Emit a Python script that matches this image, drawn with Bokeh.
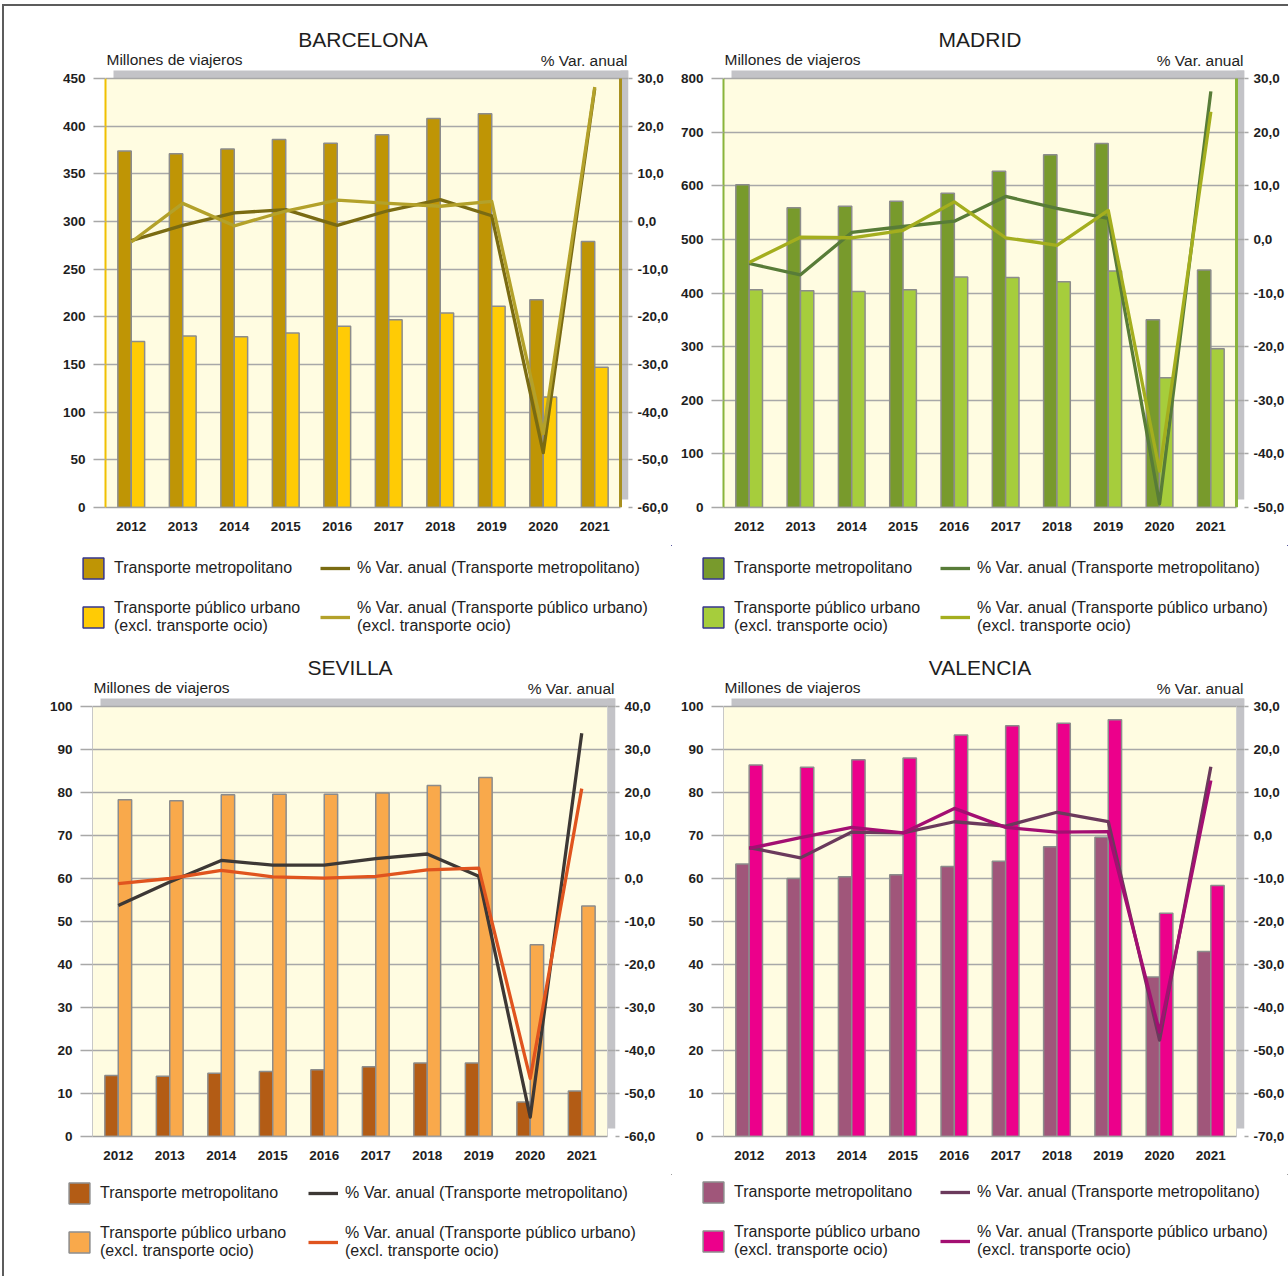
from bokeh.plotting import figure
from bokeh.models import (ColumnDataSource, Range1d, LinearAxis, FixedTicker,
                          Legend, LegendItem, Label, BoxAnnotation, CustomJSTickFormatter)
from bokeh.transform import dodge
from bokeh.layouts import column, row
from bokeh.embed import file_html
from bokeh.resources import INLINE

years = ["2012", "2013", "2014", "2015", "2016", "2017", "2018", "2019", "2020", "2021"]

bcn_metro = [374, 371, 376, 386, 382, 391, 408, 413, 218, 279]
bcn_urbano = [174, 180, 179, 183, 190, 197, 204, 211, 116, 147]
bcn_var_metro = [-4.0, -0.8, 1.8, 2.5, -0.8, 2.3, 4.6, 1.2, -48.5, 27.9]
bcn_var_urbano = [-4.3, 3.8, -0.9, 2.2, 4.5, 3.8, 3.2, 4.2, -44.5, 28.2]

mad_metro = [602, 559, 562, 571, 586, 627, 658, 679, 350, 443]
mad_urbano = [406, 404, 403, 406, 430, 429, 421, 441, 242, 296]
mad_var_metro = [-4.5, -6.6, 1.3, 2.4, 3.4, 8.0, 5.8, 3.9, -49.3, 27.6]
mad_var_urbano = [-4.3, 0.4, 0.3, 1.7, 7.0, 0.3, -1.1, 5.4, -43.2, 23.8]

sev_metro = [14.2, 14.0, 14.7, 15.1, 15.5, 16.2, 17.1, 17.1, 8.0, 10.6]
sev_urbano = [78.3, 78.1, 79.5, 79.6, 79.6, 79.9, 81.6, 83.5, 44.6, 53.6]
sev_var_metro = [-6.3, -0.8, 4.2, 3.1, 3.1, 4.6, 5.7, 0.5, -55.5, 33.8]
sev_var_urbano = [-1.2, 0.0, 1.9, 0.4, 0.1, 0.5, 2.0, 2.4, -46.5, 20.9]

val_metro = [63.4, 60.0, 60.4, 60.9, 62.8, 64.0, 67.4, 69.6, 37.1, 43.0]
val_urbano = [86.4, 85.9, 87.6, 88.0, 93.4, 95.5, 96.1, 96.9, 51.9, 58.4]
val_var_metro = [-2.8, -5.2, 0.8, 0.6, 3.2, 2.2, 5.4, 3.2, -47.6, 16.0]
val_var_urbano = [-3.0, -0.5, 1.9, 0.6, 6.3, 1.9, 0.8, 0.9, -45.7, 12.8]

bcn_left_ticks = [0, 50, 100, 150, 200, 250, 300, 350, 400, 450]
bcn_right_ticks = [-60, -50, -40, -30, -20, -10, 0, 10, 20, 30]
mad_left_ticks = [0, 100, 200, 300, 400, 500, 600, 700, 800]
mad_right_ticks = [-50, -40, -30, -20, -10, 0, 10, 20, 30]
sev_left_ticks = [0, 10, 20, 30, 40, 50, 60, 70, 80, 90, 100]
sev_right_ticks = [-60, -50, -40, -30, -20, -10, 0, 10, 20, 30, 40]
val_left_ticks = [0, 10, 20, 30, 40, 50, 60, 70, 80, 90, 100]
val_right_ticks = [-70, -60, -50, -40, -30, -20, -10, 0, 10, 20, 30]

lbl_metro = "Transporte metropolitano"
lbl_urbano = "Transporte público urbano\n(excl. transporte ocio)"
lbl_var_metro = "% Var. anual (Transporte metropolitano)"
lbl_var_urbano = "% Var. anual (Transporte público urbano)\n(excl. transporte ocio)"

TICK_FONT = "Liberation Sans"
TEXT_FONT = "Liberation Sans"
GRID = "#a8a8a8"
BG = "#fffce1"
SHADOW = "#c3c3c7"
EXTRA_TOP = 58   # frame space above the plot area (titles)
SH = 8           # shadow offset


def no_align(fig):
    try:
        fig.frame_align = False
    except AttributeError:
        pass


def build(name, metro, urbano, vmetro, vurbano, lticks, rticks, col,
          width, height, bl, bt, W, H, rstandoff, leg_h, leg_x1, leg_x2, leg_y):
    FW = W + SH
    FH = H + EXTRA_TOP
    br = width - bl - FW
    bb = height - bt - FH
    n = len(years)
    xs = [i + 0.5 for i in range(n)]
    src = ColumnDataSource(dict(x=xs, year=years, metro=metro, urbano=urbano,
                                vmetro=vmetro, vurbano=vurbano))
    lo, hi = lticks[0], lticks[-1]
    plo, phi = rticks[0], rticks[-1]
    p = figure(x_range=Range1d(0, n * FW / W), y_range=Range1d(lo, lo + (hi - lo) * FH / H),
               width=width, height=height, output_backend="svg", toolbar_location=None,
               min_border_left=bl, min_border_right=br, min_border_top=bt,
               min_border_bottom=bb)
    no_align(p)
    p.title.visible = False
    p.extra_y_ranges = {"pct": Range1d(plo, plo + (phi - plo) * FH / H)}
    p.background_fill_color = "white"
    p.border_fill_color = "white"
    p.outline_line_color = None
    p.xgrid.grid_line_color = None
    p.ygrid.ticker = FixedTicker(ticks=lticks)
    p.ygrid.grid_line_color = GRID
    p.ygrid.grid_line_width = 1.5

    scr = dict(left_units="screen", right_units="screen", bottom_units="screen",
               top_units="screen", line_color=None, fill_alpha=1)
    # plot area background and its drop shadow
    p.add_layout(BoxAnnotation(left=0, right=W, bottom=0, top=H, fill_color=BG,
                               level="image", **scr))
    p.add_layout(BoxAnnotation(left=SH, right=W + SH, bottom=H, top=H + SH,
                               fill_color=SHADOW, level="image", **scr))
    p.add_layout(BoxAnnotation(left=W, right=W + SH, bottom=SH, top=H + SH,
                               fill_color=SHADOW, level="image", **scr))
    # right edge line of the plot area
    p.add_layout(BoxAnnotation(left=W - col["raxis_w"] / 2, right=W + col["raxis_w"] / 2,
                               bottom=0, top=H, fill_color=col["raxis"],
                               level="underlay", **scr))

    yax = p.yaxis[0]
    yax.ticker = FixedTicker(ticks=lticks)
    yax.bounds = (lo, hi)
    rax = LinearAxis(y_range_name="pct", ticker=FixedTicker(ticks=rticks), bounds=(plo, phi),
                     formatter=CustomJSTickFormatter(code="return tick.toFixed(1).replace('.', ',');"))
    p.add_layout(rax, "right")
    for ax in (yax, rax):
        ax.major_tick_in = 0
        ax.major_tick_line_color = GRID
        ax.major_tick_line_width = 1.5
        ax.minor_tick_line_color = None
        ax.major_label_text_font = TICK_FONT
        ax.major_label_text_font_size = "13.5px"
        ax.major_label_text_font_style = "bold"
        ax.major_label_text_color = "#1e1e1e"
    yax.major_tick_out = 12
    yax.major_label_standoff = 8
    yax.axis_line_color = col["laxis"]
    yax.axis_line_width = col["laxis_w"]
    rax.major_tick_out = 4
    rax.major_label_standoff = rstandoff
    rax.axis_line_color = None

    xax = p.xaxis[0]
    xax.ticker = FixedTicker(ticks=xs)
    xax.formatter = CustomJSTickFormatter(args=dict(labels=years),
                                          code="return labels[Math.floor(tick)];")
    xax.bounds = (0, n)
    xax.axis_line_color = "#a0a0a0"
    xax.axis_line_width = 1.5
    xax.major_tick_line_color = None
    xax.minor_tick_line_color = None
    xax.major_label_text_font = TICK_FONT
    xax.major_label_text_font_size = "13.5px"
    xax.major_label_text_font_style = "bold"
    xax.major_label_text_color = "#1e1e1e"
    xax.major_label_standoff = 8

    p.vbar(x=dodge("x", -0.13), top="metro", width=0.26, source=src,
           fill_color=col["mbar"], line_color="#8c8c8c", line_width=1.5)
    p.vbar(x=dodge("x", 0.13), top="urbano", width=0.26, source=src,
           fill_color=col["ubar"], line_color="#8c8c8c", line_width=1.5)
    p.line("x", "vmetro", source=src, y_range_name="pct",
           line_color=col["mline"], line_width=3.3, line_join="round")
    p.line("x", "vurbano", source=src, y_range_name="pct",
           line_color=col["uline"], line_width=3.3, line_join="round")

    p.add_layout(Label(x=W / 2, y=H + 39, x_units="screen", y_units="screen", text=name,
                       text_align="center", text_baseline="middle", text_font=TEXT_FONT,
                       text_font_size="21px", text_color="#1e1e1e"))
    p.add_layout(Label(x=1, y=H + 19, x_units="screen", y_units="screen",
                       text="Millones de viajeros", text_align="left", text_baseline="middle",
                       text_font=TEXT_FONT, text_font_size="15.5px", text_color="#1e1e1e"))
    p.add_layout(Label(x=FW - 1, y=H + 18, x_units="screen", y_units="screen",
                       text="% Var. anual", text_align="right", text_baseline="middle",
                       text_font=TEXT_FONT, text_font_size="15.5px", text_color="#1e1e1e"))

    # legend strip below the chart; its renderers share the data but lie outside its view
    lg = figure(width=width, height=leg_h, x_axis_type=None, y_axis_type=None,
                output_backend="svg", toolbar_location=None, min_border=0,
                x_range=Range1d(-3, -2), y_range=Range1d(-3, -2))
    no_align(lg)
    lg.title.visible = False
    lg.outline_line_color = None
    lg.background_fill_color = "white"
    lg.border_fill_color = "white"
    pm = lg.vbar(x="x", top="metro", width=0.26, source=src, fill_color=col["mbar"],
                 line_color=col["sw"], line_width=1.5)
    pu = lg.vbar(x="x", top="urbano", width=0.26, source=src, fill_color=col["ubar"],
                 line_color=col["sw"], line_width=1.5)
    lm = lg.line("x", "vmetro", source=src, line_color=col["mline"], line_width=3.3)
    lu = lg.line("x", "vurbano", source=src, line_color=col["uline"], line_width=3.3)
    common = dict(orientation="vertical", padding=0, margin=0, border_line_color=None,
                  background_fill_alpha=0, label_text_font=TEXT_FONT,
                  label_text_font_size="16px", label_text_color="#222222",
                  label_text_line_height=1.05, spacing=18, glyph_height=26)
    lg.add_layout(Legend(items=[LegendItem(label=lbl_metro, renderers=[pm]),
                                LegendItem(label=lbl_urbano, renderers=[pu])],
                         location=(leg_x1, leg_y), glyph_width=26, label_standoff=8, **common))
    lg.add_layout(Legend(items=[LegendItem(label=lbl_var_metro, renderers=[lm]),
                                LegendItem(label=lbl_var_urbano, renderers=[lu])],
                         location=(leg_x2, leg_y), glyph_width=30, label_standoff=7, **common))
    return column(p, lg)


bcn_col = dict(mbar="#bf9505", ubar="#ffcb05", mline="#7a6b12", uline="#b3a12a",
               laxis="#f0c000", laxis_w=2, raxis="#a89020", raxis_w=3, sw="#35358a")
mad_col = dict(mbar="#789a2c", ubar="#a6cd3c", mline="#587c38", uline="#a4ae1e",
               laxis="#8ab43a", laxis_w=2, raxis="#8ab43a", raxis_w=3, sw="#35358a")
sev_col = dict(mbar="#b35c15", ubar="#f9a94b", mline="#3d3835", uline="#e0541e",
               laxis="#c8c8c8", laxis_w=1, raxis="#d0d0d0", raxis_w=1, sw="#8c8c8c")
val_col = dict(mbar="#a0567a", ubar="#ec008b", mline="#6b3a5c", uline="#a30f72",
               laxis="#c8c8c8", laxis_w=1, raxis="#d0d0d0", raxis_w=1, sw="#8c8c8c")

# content origin is shifted by the page frame: 4px from the left, 6px from the top
c1 = build("BARCELONA", bcn_metro, bcn_urbano, bcn_var_metro, bcn_var_urbano,
           bcn_left_ticks, bcn_right_ticks, bcn_col, 668, 539, 101, 14, 515, 429, 5,
           95, 76, 316, 5)
c2 = build("MADRID", mad_metro, mad_urbano, mad_var_metro, mad_var_urbano,
           mad_left_ticks, mad_right_ticks, mad_col, 616, 539, 51, 14, 513, 429, 5,
           95, 28, 268, 5)
c3 = build("SEVILLA", sev_metro, sev_urbano, sev_var_metro, sev_var_urbano,
           sev_left_ticks, sev_right_ticks, sev_col, 668, 534, 88, 8, 515, 430, 5,
           102, 62, 304, 16)
c4 = build("VALENCIA", val_metro, val_urbano, val_var_metro, val_var_urbano,
           val_left_ticks, val_right_ticks, val_col, 616, 534, 51, 8, 513, 430, 5,
           102, 28, 268, 17)

layout = column(row(c1, c2), row(c3, c4),
                styles={"border-top": "2px solid #5c5c5c", "border-left": "2px solid #5c5c5c",
                        "margin-top": "4px", "margin-left": "2px"})
open("out.html", "w").write(file_html(layout, INLINE, title="Viajeros transporte"))
